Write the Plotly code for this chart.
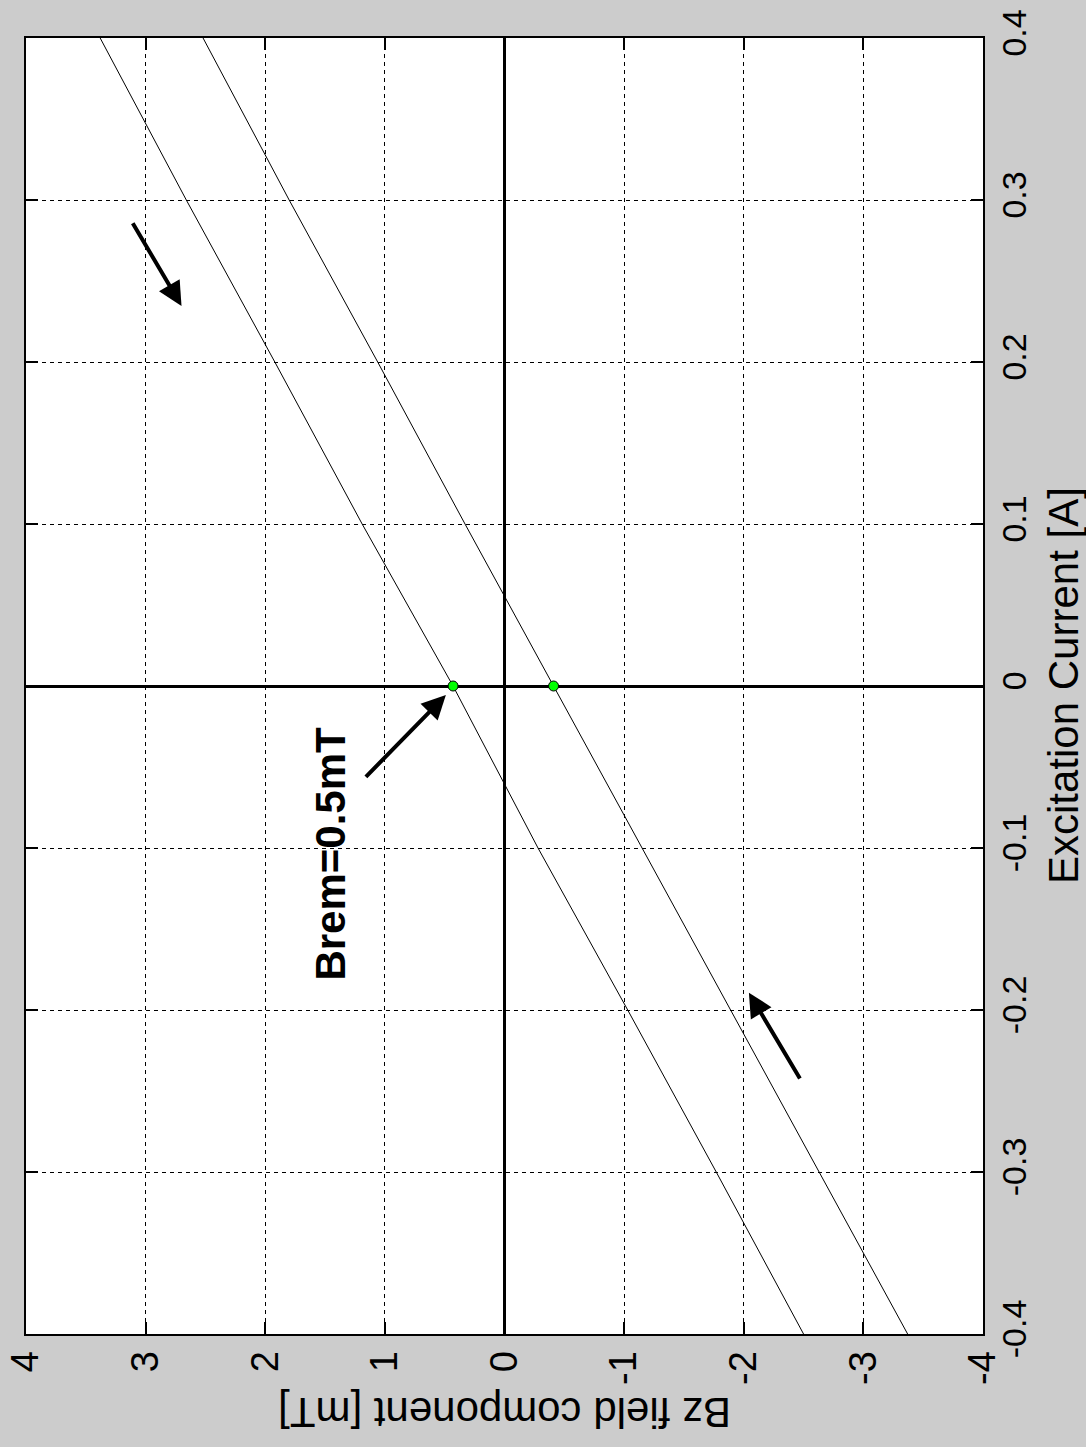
import plotly.graph_objects as go

# Data: excitation current [A] and Bz [mT] for the two hysteresis branches
current = [-0.4, -0.3, -0.2, -0.1, 0.0, 0.1, 0.2, 0.3, 0.4]
bz_branch_upper = [-2.50, -1.77, -1.03, -0.28, 0.43, 1.19, 1.92, 2.66, 3.38]
bz_branch_lower = [-3.37, -2.63, -1.89, -1.15, -0.41, 0.33, 1.06, 1.80, 2.52]

# Remanence points (at zero current)
rem_current = [0.0, 0.0]
rem_bz = [0.43, -0.41]

# Tick labels
bz_ticks = [4, 3, 2, 1, 0, -1, -2, -3, -4]
bz_ticktext = ["4", "3", "2", "1", "0", "-1", "-2", "-3", "-4"]
cur_ticks = [-0.4, -0.3, -0.2, -0.1, 0, 0.1, 0.2, 0.3, 0.4]
cur_ticktext = ["-0.4", "-0.3", "-0.2", "-0.1", "0", "0.1", "0.2", "0.3", "0.4"]

FONT = "Liberation Sans, Arial, sans-serif"

fig = go.Figure()
fig.add_trace(go.Scatter(x=bz_branch_upper, y=current, mode="lines",
                         line=dict(color="black", width=1), showlegend=False))
fig.add_trace(go.Scatter(x=bz_branch_lower, y=current, mode="lines",
                         line=dict(color="black", width=1), showlegend=False))
fig.add_trace(go.Scatter(x=rem_bz, y=rem_current, mode="markers",
                         marker=dict(size=10, color="#00ff00",
                                     line=dict(color="black", width=1)),
                         showlegend=False))

axis_common = dict(
    showline=True, linecolor="black", linewidth=2, mirror="ticks",
    ticks="inside", ticklen=12, tickwidth=2, tickcolor="black",
    showgrid=True, gridcolor="black", gridwidth=1, griddash="4px,4px",
    zeroline=True, zerolinecolor="black", zerolinewidth=2.5,
    tickangle=-90, automargin=False,
)

fig.update_layout(
    width=1086, height=1447,
    margin=dict(l=26, r=103, t=38, b=113, autoexpand=False),
    paper_bgcolor="#cccccc", plot_bgcolor="white",
    font=dict(family=FONT, color="black"),
    xaxis=dict(range=[4, -4], tickmode="array", tickvals=bz_ticks,
               ticktext=bz_ticktext, tickfont=dict(size=38, family=FONT),
               side="bottom", **axis_common),
    yaxis=dict(range=[-0.4, 0.4], tickmode="array", tickvals=cur_ticks,
               ticktext=cur_ticktext, tickfont=dict(size=34, family=FONT),
               side="right", **axis_common),
)

# Axis titles (rotated as in the reference)
fig.add_annotation(text="Bz field component [mT]", xref="paper", yref="paper",
                   x=0.5, y=-0.061, showarrow=False, textangle=180,
                   font=dict(size=42, family=FONT, color="black"),
                   xanchor="center", yanchor="middle")
fig.add_annotation(text="Excitation Current [A]", xref="paper", yref="paper",
                   x=1.0836, y=0.5, showarrow=False, textangle=-90,
                   font=dict(size=42, family=FONT, color="black"),
                   xanchor="center", yanchor="middle")

# Arrows
arrows = [
    # (head_bz, head_I, tail_bz, tail_I)
    (2.70, 0.2346, 3.115, 0.2866),
    (-2.043, -0.1893, -2.477, -0.2432),
    (0.49, -0.0056, 1.171, -0.057),
]
for hx, hy, tx, ty in arrows:
    fig.add_annotation(x=hx, y=hy, ax=tx, ay=ty, xref="x", yref="y",
                       axref="x", ayref="y", text="", showarrow=True,
                       arrowhead=2, arrowsize=1.2, arrowwidth=4,
                       arrowcolor="black", standoff=0)

fig.add_annotation(text="<b>Brem=0.5mT</b>", x=1.454, y=-0.1037,
                   xref="x", yref="y", showarrow=False, textangle=-90,
                   font=dict(size=42, family=FONT, color="black"),
                   xanchor="center", yanchor="middle")

fig.write_html("out.html")
